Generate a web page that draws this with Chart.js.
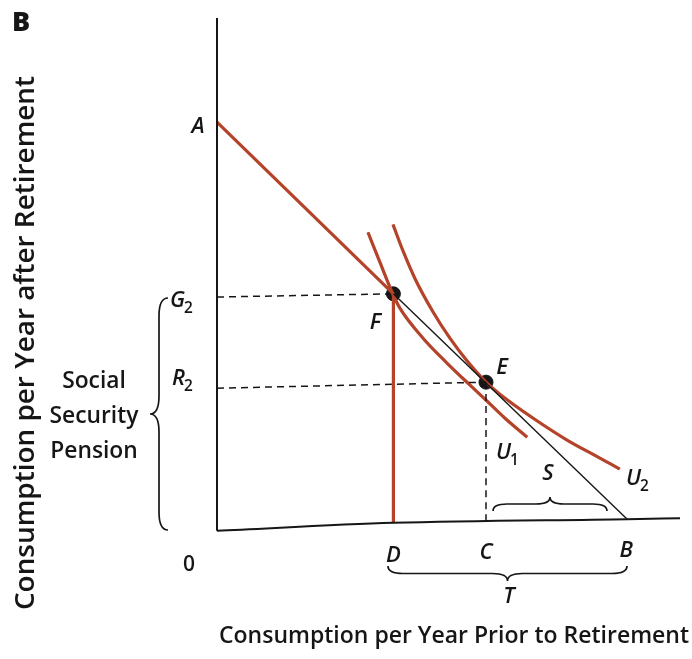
<!DOCTYPE html>
<html>
<head>
<meta charset="utf-8">
<script src="https://cdn.jsdelivr.net/npm/chart.js@4"></script>
<style>
  html, body { margin: 0; padding: 0; background: #fff; }
</style>
</head>
<body>
<canvas id="chart" width="692" height="659"></canvas>
<script>
// key points: x = consumption per year prior to retirement, y = after retirement
const pointA = {x: 0, y: 8.75};
const pointF = {x: 3.81, y: 5.04};
const pointE = {x: 5.81, y: 3.13};
const pointB = {x: 8.86, y: 0.17};
const pointD = {x: 3.81, y: 0.09};
const pointC = {x: 5.81, y: 0.13};
// where the dashed guides meet the vertical axis (scan is slightly skewed)
const pointG2 = {x: 0, y: 4.97};
const pointR2 = {x: 0, y: 3.0};

// the axes (the scanned x axis is a little tilted)
const axisX = [{x: 0, y: -0.08}, {x: 3.81, y: 0.09}, {x: 8.86, y: 0.17}, {x: 10, y: 0.19}];
const axisY = [{x: 0, y: -0.08}, {x: 0, y: 11}];

// indifference curves
const curveU1 = [
  {x: 3.26, y: 6.37}, {x: 3.52, y: 5.72}, {x: 3.80, y: 5.03}, {x: 3.95, y: 4.73},
  {x: 4.45, y: 4.08}, {x: 4.95, y: 3.56}, {x: 5.46, y: 3.07}, {x: 5.79, y: 2.76},
  {x: 6.22, y: 2.35}, {x: 6.70, y: 1.94}
];
const curveU2 = [
  {x: 3.80, y: 6.54}, {x: 4.02, y: 5.96}, {x: 4.28, y: 5.36}, {x: 4.67, y: 4.64},
  {x: 5.03, y: 4.08}, {x: 5.40, y: 3.59}, {x: 5.81, y: 3.13}, {x: 6.11, y: 2.87},
  {x: 6.83, y: 2.35}, {x: 7.56, y: 1.88}, {x: 8.27, y: 1.49}, {x: 8.70, y: 1.25}
];

const RED = '#b4432a';
const INK = '#161616';
const FONT = '"Open Sans"';

const lineSet = (data, color, width, dash) => ({
  data: data,
  showLine: true,
  borderColor: color,
  borderWidth: width,
  borderDash: dash || [],
  pointRadius: 0,
  fill: false,
  clip: false,
  cubicInterpolationMode: 'monotone'
});

function brace(ctx, x1, y1, x2, y2, w) {
  const len = Math.hypot(x2 - x1, y2 - y1);
  const h = len / 2, r = w / 2, q = Math.min(w, h / 2);
  ctx.save();
  ctx.translate(x1, y1);
  ctx.rotate(Math.atan2(y2 - y1, x2 - x1));
  ctx.beginPath();
  ctx.moveTo(0, 0);
  ctx.quadraticCurveTo(0, r, q, r);
  ctx.lineTo(h - q, r);
  ctx.quadraticCurveTo(h, r, h, w);
  ctx.moveTo(len, 0);
  ctx.quadraticCurveTo(len, r, len - q, r);
  ctx.lineTo(h + q, r);
  ctx.quadraticCurveTo(h, r, h, w);
  ctx.stroke();
  ctx.restore();
}

// size a font so that the text takes the given width
function fitFont(ctx, text, width, style) {
  ctx.font = style + ' 20px ' + FONT;
  const size = 20 * width / ctx.measureText(text).width;
  ctx.font = style + ' ' + size.toFixed(1) + 'px ' + FONT;
}

function sub(ctx, main, s, x, y, size) {
  ctx.font = 'italic 600 ' + size + 'px ' + FONT;
  ctx.textAlign = 'left';
  ctx.fillText(main, x, y);
  const w = ctx.measureText(main).width;
  ctx.font = '600 ' + (size * 0.7) + 'px ' + FONT;
  ctx.fillText(s, x + w - 1, y + size * 0.34);
}

const labels = {
  id: 'labels',
  afterDraw(chart) {
    const ctx = chart.ctx;
    const X = v => chart.scales.x.getPixelForValue(v);
    const Y = v => chart.scales.y.getPixelForValue(v);
    ctx.save();
    ctx.fillStyle = INK;
    ctx.strokeStyle = INK;
    ctx.textBaseline = 'middle';

    ctx.font = '800 27px ' + FONT;
    ctx.textAlign = 'left';
    ctx.fillText('B', 12, 23);

    // axis titles
    ctx.textAlign = 'center';
    const xTitle = 'Consumption per Year Prior to Retirement';
    fitFont(ctx, xTitle, 470, '600');
    ctx.fillText(xTitle, 454, 636);
    const yTitle = 'Consumption per Year after Retirement';
    fitFont(ctx, yTitle, 535, '600');
    ctx.save();
    ctx.translate(26, 343);
    ctx.rotate(-Math.PI / 2);
    ctx.fillText(yTitle, 0, 0);
    ctx.restore();

    fitFont(ctx, 'Security', 89, '600');
    ctx.fillText('Social', 94, 382);
    ctx.fillText('Security', 94, 417);
    ctx.fillText('Pension', 94, 452);
    ctx.font = '600 21px ' + FONT;
    ctx.fillText('0', 189, 565);

    ctx.font = 'italic 600 22px ' + FONT;
    ctx.fillText('A', 198, Y(pointA.y) + 5);
    ctx.fillText('F', X(pointF.x) - 18, 323);
    ctx.fillText('E', X(pointE.x) + 16, 368);
    ctx.fillText('D', X(pointD.x), 556);
    ctx.fillText('C', X(pointC.x), 553);
    ctx.fillText('B', X(pointB.x) - 1, 551);
    ctx.fillText('T', 509, 597);
    ctx.fillText('S', 548, 474);

    sub(ctx, 'G', '2', 170, Y(pointG2.y) + 4, 22);
    sub(ctx, 'R', '2', 172, Y(pointR2.y) - 9, 22);
    sub(ctx, 'U', '1', 496, 453, 22);
    sub(ctx, 'U', '2', 626, 479, 22);

    ctx.lineWidth = 1.7;
    brace(ctx, 607, 511, 493, 511, 14);
    brace(ctx, 388, 566, 627, 566, 15);
    brace(ctx, 168, 298, 168, 530, 18);
    ctx.restore();
  }
};

new Chart(document.getElementById('chart'), {
  type: 'scatter',
  data: {
    datasets: [
      lineSet(axisY, INK, 2),
      lineSet(axisX, INK, 2),
      lineSet([pointA, pointF], RED, 3.2),
      lineSet([pointF, pointB], INK, 1.4),
      lineSet([pointF, pointD], RED, 3.2),
      lineSet([pointG2, pointF], INK, 1.5, [7, 5]),
      lineSet([pointR2, pointE], INK, 1.5, [7, 5]),
      lineSet([pointE, pointC], INK, 1.5, [7, 5]),
      lineSet(curveU1, RED, 3.2),
      lineSet(curveU2, RED, 3.2),
      {
        data: [pointF, pointE],
        showLine: false,
        pointRadius: 7,
        pointBackgroundColor: INK,
        pointBorderColor: INK,
        clip: false
      }
    ]
  },
  options: {
    responsive: false,
    animation: false,
    layout: {padding: {left: 217, right: 12, top: 18, bottom: 132}},
    scales: {
      x: {type: 'linear', min: 0, max: 10, display: false},
      y: {type: 'linear', min: 0, max: 11, display: false}
    },
    plugins: {legend: {display: false}, tooltip: {enabled: false}}
  },
  plugins: [labels]
});
</script>
</body>
</html>
